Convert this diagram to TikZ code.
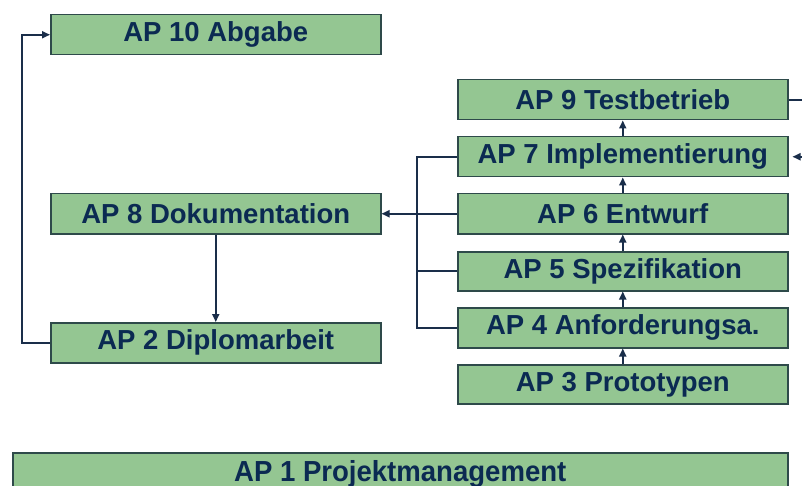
\documentclass[tikz,border=0pt]{standalone}
\usepackage{fontspec}
\setmainfont{Liberation Sans}
\usetikzlibrary{arrows.meta}
\definecolor{boxfill}{HTML}{94C692}
\definecolor{boxline}{HTML}{2E4A4A}
\definecolor{txt}{HTML}{0B2A52}
\definecolor{wire}{HTML}{1A2E4A}
\begin{document}
\begin{tikzpicture}[x=1pt,y=-1pt,
  apbox/.style={draw=boxline,line width=1.5pt,fill=boxfill,text=txt,font=\fontsize{27.5}{30}\selectfont\bfseries,inner sep=0pt,anchor=north west},
  wirel/.style={draw=wire,line width=1.8pt},
  arr/.style={wirel,-{Triangle[length=8pt,width=7pt]}}]
\useasboundingbox (0,0) rectangle (802,486);
\fill[white] (0,0) rectangle (802,486);
\node[apbox,minimum width=330pt,minimum height=40pt] (ap10) at (50,14) {AP 10 Abgabe};
\node[apbox,minimum width=330pt,minimum height=40pt] (ap8) at (50,193) {AP 8 Dokumentation};
\node[apbox,minimum width=330pt,minimum height=40pt] (ap2) at (50,322) {AP 2 Diplomarbeit};
\node[apbox,minimum width=330pt,minimum height=40pt] (ap9) at (457,79) {AP 9 Testbetrieb};
\node[apbox,minimum width=330pt,minimum height=40pt] (ap7) at (457,136) {AP 7 Implementierung};
\node[apbox,minimum width=330pt,minimum height=40pt] (ap6) at (457,193) {AP 6 Entwurf};
\node[apbox,minimum width=330pt,minimum height=39pt] (ap5) at (457,251) {AP 5 Spezifikation};
\node[apbox,minimum width=330pt,minimum height=40pt] (ap4) at (457,307) {AP 4 Anforderungsa.};
\node[apbox,minimum width=330pt,minimum height=39pt] (ap3) at (457,364) {AP 3 Prototypen};
\node[apbox,minimum width=775pt,minimum height=42pt,font=\fontsize{29}{32}\selectfont\bfseries] (ap1) at (12,452) {\scalebox{0.95}[1]{AP 1 Projektmanagement}};
% vertical chain
\draw[arr] (ap3.north) -- (ap4.south);
\draw[arr] (ap4.north) -- (ap5.south);
\draw[arr] (ap5.north) -- (ap6.south);
\draw[arr] (ap6.north) -- (ap7.south);
\draw[arr] (ap7.north) -- (ap9.south);
% bus on left of right column
\coordinate (bt) at (417,156);
\coordinate (bb) at (417,327);
\draw[wirel] (ap7.west) -- (ap7.west -| bt) -- (ap4.west -| bb) -- (ap4.west);
\draw[wirel] (ap5.west) -- (ap5.west -| bt);
\draw[arr] (ap6.west) -- (ap8.east);
\draw[arr] (ap8.south) -- (ap2.north);
% left loop
\coordinate (ll) at (22,342);
\coordinate (lt) at (22,34);
\draw[arr] (ap2.west) -- (ap2.west -| ll) -- (ap10.west -| lt) -- (ap10.west);
% right loop (cut by edge)
\coordinate (r9) at (802,98);
\coordinate (r7) at (802,156);
\draw[wirel] (ap9.east) -- (ap9.east -| r9);
\draw[arr] (ap7.east -| r7) -- ([xshift=4pt]ap7.east);
\end{tikzpicture}
\end{document}
